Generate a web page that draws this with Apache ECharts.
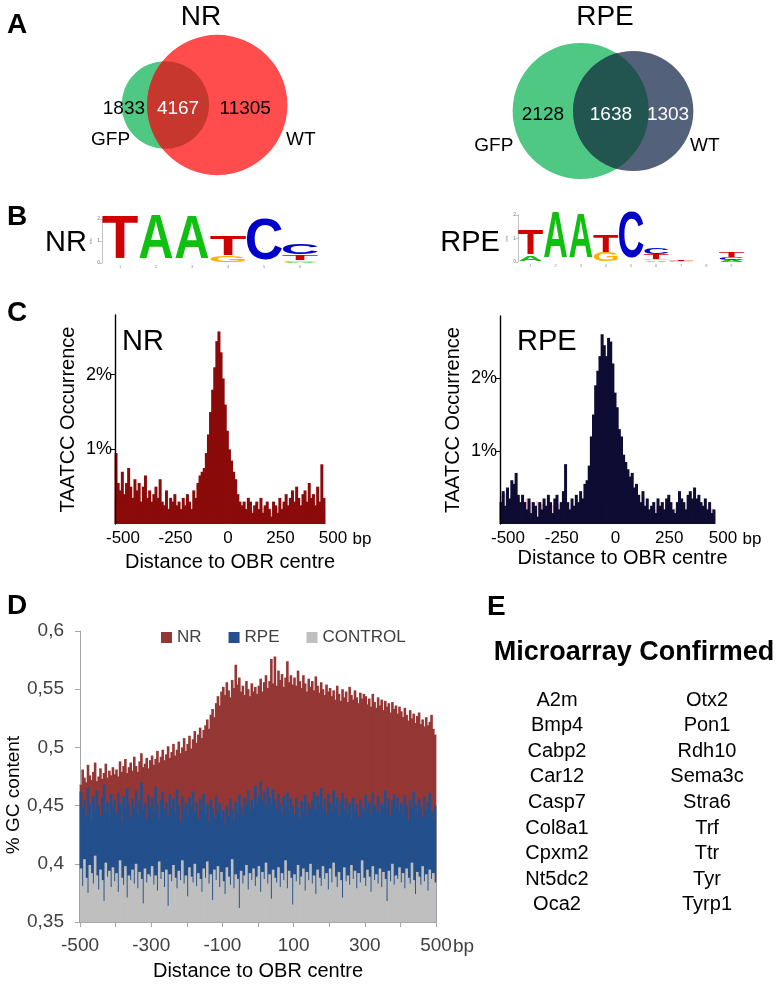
<!DOCTYPE html>
<html><head><meta charset="utf-8">
<script src="https://cdn.jsdelivr.net/npm/echarts@6/dist/echarts.min.js"></script>
<style>html,body{margin:0;padding:0;background:#fff}#c{width:779px;height:984px}</style>
</head><body><div id="c"></div>
<script>
const FONT = '"Liberation Sans", Arial, Helvetica, sans-serif';

// ---------- A: Venn counts [GFP only, both, WT only]
const vennNR = [1833, 4167, 11305];
const vennRPE = [2128, 1638, 1303];
const vennSets = ['GFP', 'WT'];

// ---------- B: sequence logos, per position, stack bottom -> top [letter, bits]
const logoNR = [
  [['T', 1.95]],
  [['A', 1.98]],
  [['A', 1.96]],
  [['G', 0.28], ['T', 0.86]],
  [['C', 1.85]],
  [['A', 0.05], ['G', 0.08], ['T', 0.22], ['C', 0.48]]
];
const logoRPE = [
  [['A', 0.22], ['T', 1.05]],
  [['A', 1.94]],
  [['A', 1.90]],
  [['G', 0.36], ['T', 0.70]],
  [['C', 1.95]],
  [['A', 0.06], ['G', 0.05], ['T', 0.20], ['C', 0.28]],
  [['G', 0.03], ['T', 0.05]],
  [['C', 0.02]],
  [['A', 0.08], ['C', 0.12], ['T', 0.22]]
];
const logoPositionsNR = ['1', '2', '3', '4', '5', '6'];
const logoPositionsRPE = ['1', '2', '3', '4', '5', '6', '7', '8', '9'];

// ---------- C: TAATCC occurrence (%) in 10 bp bins from -500 to 500
const cBinStart = -500, cBinWidth = 10;
const cTicks = [-500, -250, 0, 250, 500];
const cNR = [
  .95,.55,.45,.70,.40,.55,.75,.50,.35,.60,
  .45,.55,.30,.50,.65,.35,.45,.30,.40,.50,
  .35,.60,.30,.25,.45,.20,.35,.30,.40,.25,
  .30,.20,.35,.25,.40,.30,.20,.45,.35,.55,
  .65,.70,.75,.95,1.20,1.50,1.80,2.10,2.45,2.58,
  2.30,1.95,1.60,1.25,1.00,.85,.70,.60,.40,.30,
  .25,.30,.20,.35,.30,.15,.25,.30,.20,.35,
  .15,.25,.30,.20,.10,.30,.25,.15,.35,.20,
  .30,.40,.25,.35,.45,.30,.50,.35,.25,.40,
  .45,.30,.55,.35,.40,.25,.50,.30,.80,.35
];
const cNRbackground = [
  .30,.22,.33,.25,.18,.28,.31,.20,.26,.29,
  .24,.30,.19,.27,.22,.25,.17,.28,.21,.24,
  .18,.23,.20,.26,.15,.22,.19,.24,.17,.21,
  .20,.16,.23,.18,.21,.15,.19,.22,.17,.20,
  .18,.21,.16,.22,.19,.17,.23,.18,.20,.16,
  .21,.18,.22,.17,.19,.23,.16,.20,.18,.21,
  .17,.22,.19,.15,.21,.18,.23,.16,.20,.19,
  .22,.17,.19,.21,.15,.20,.18,.23,.17,.21,
  .19,.22,.16,.20,.18,.24,.17,.21,.19,.22,
  .20,.18,.23,.17,.21,.19,.24,.18,.22,.20
];
const cRPE = [
  .30,.45,.25,.50,.35,.60,.55,.70,.40,.30,
  .40,.30,.20,.35,.15,.30,.25,.10,.30,.20,
  .35,.25,.40,.30,.15,.35,.40,.20,.30,.45,
  .82,.30,.20,.35,.25,.40,.30,.45,.35,.55,
  .60,.80,1.20,1.50,1.90,2.10,2.30,2.60,2.45,2.30,
  2.55,2.50,2.20,1.80,1.60,1.30,1.20,.95,.85,.75,
  .65,.70,.50,.55,.40,.30,.45,.25,.35,.20,
  .25,.30,.15,.35,.25,.30,.20,.35,.40,.30,
  .20,.15,.30,.45,.35,.30,.20,.40,.45,.35,
  .50,.35,.40,.30,.25,.35,.20,.30,.15,.20
];
const cRPEbackground = [
  .38,.30,.42,.27,.35,.40,.25,.33,.37,.29,
  .32,.26,.35,.22,.30,.28,.24,.31,.20,.27,
  .25,.21,.28,.18,.26,.23,.19,.27,.22,.24,
  .20,.25,.18,.23,.21,.17,.24,.19,.22,.20,
  .18,.23,.16,.21,.19,.24,.17,.20,.22,.18,
  .21,.17,.23,.19,.16,.22,.20,.18,.24,.17,
  .19,.22,.18,.15,.21,.17,.23,.19,.16,.20,
  .22,.18,.20,.23,.17,.21,.19,.24,.18,.20,
  .17,.21,.19,.16,.22,.18,.20,.23,.17,.19,
  .21,.18,.22,.20,.16,.19,.23,.18,.21,.17
];

// ---------- D: GC content in 5 bp bins from -500 to 500
const dBinStart = -500, dBinWidth = 5;
const dNR = [
  .468,.481,.474,.470,.485,.476,.472,.479,.487,.471,.475,.482,.473,.478,.486,.474,.480,.476,.483,.477,
  .481,.475,.488,.479,.484,.490,.478,.483,.487,.480,.492,.484,.479,.488,.495,.483,.486,.491,.482,.489,
  .493,.485,.490,.497,.487,.492,.498,.489,.494,.501,.491,.496,.503,.493,.498,.505,.495,.500,.508,.497,
  .503,.510,.499,.507,.514,.504,.511,.517,.508,.515,
  .519,.524,.516,.528,.533,.526,.538,.544,.536,.548,
  .552,.545,.556,.549,.543,.558,.551,.571,.554,.560,.548,.553,.545,.557,.550,.544,.555,.548,.552,.546,
  .553,.559,.548,.556,.562,.551,.557,.576,.555,.578,.553,.566,.558,.563,.552,.560,.574,.556,.562,.554,
  .560,.553,.566,.557,.551,.562,.555,.548,.559,.552,.557,.549,.561,.553,.547,.556,.550,.545,.554,.548,
  .551,.544,.549,.541,.553,.546,.540,.550,.543,.548,.539,.552,.545,.541,.549,.543,.538,.547,.542,.546,
  .544,.537,.542,.535,.546,.539,.534,.543,.536,.541,.532,.540,.535,.538,.530,.539,.533,.536,.529,.535,
  .531,.526,.534,.528,.523,.532,.525,.529,.521,.527,.530,.520,.524,.518,.526,.519,.522,.528,.516,.511
];
const dRPE = [
  .462,.448,.455,.441,.466,.452,.437,.458,.446,.463,
  .450,.441,.457,.468,.444,.453,.439,.460,.449,.455,
  .443,.461,.452,.436,.458,.447,.465,.451,.440,.456,
  .448,.463,.442,.454,.470,.446,.452,.438,.459,.449,
  .457,.444,.466,.451,.439,.455,.462,.447,.453,.441,
  .460,.448,.456,.443,.464,.450,.437,.458,.446,.452,
  .441,.457,.449,.462,.445,.453,.438,.456,.447,.460,
  .443,.451,.436,.455,.448,.440,.458,.444,.452,.439,
  .446,.433,.450,.441,.456,.447,.438,.453,.444,.459,
  .449,.442,.457,.451,.463,.446,.455,.448,.467,.452,
  .458,.471,.454,.462,.449,.466,.457,.451,.464,.455,
  .447,.460,.452,.443,.458,.449,.461,.445,.456,.450,
  .442,.457,.448,.439,.454,.446,.459,.441,.452,.447,
  .455,.462,.446,.458,.451,.465,.448,.456,.443,.460,
  .452,.445,.463,.449,.457,.441,.454,.461,.447,.456,
  .443,.452,.438,.457,.446,.451,.440,.455,.448,.444,
  .459,.447,.453,.442,.461,.450,.446,.458,.444,.452,
  .449,.463,.447,.456,.441,.454,.460,.448,.457,.445,
  .452,.443,.459,.450,.438,.455,.447,.462,.451,.444,
  .456,.449,.440,.458,.446,.453,.461,.445,.437,.450
];
const dCONTROL = [
  .396,.381,.404,.388,.375,.399,.392,.383,.407,.390,
  .378,.395,.386,.368,.401,.389,.394,.380,.397,.385,
  .392,.376,.403,.388,.382,.398,.371,.390,.386,.395,
  .383,.400,.379,.393,.387,.366,.396,.384,.391,.389,
  .398,.382,.390,.377,.402,.387,.393,.380,.395,.364,
  .391,.385,.399,.388,.379,.394,.386,.403,.383,.390,
  .372,.397,.389,.384,.400,.381,.392,.387,.376,.396,
  .388,.402,.383,.391,.369,.395,.386,.398,.380,.393,
  .385,.374,.397,.389,.382,.404,.379,.391,.387,.362,
  .394,.383,.390,.399,.378,.392,.386,.396,.381,.389,
  .398,.376,.393,.387,.401,.383,.391,.370,.395,.388,
  .384,.397,.380,.392,.386,.403,.379,.394,.388,.365,
  .391,.385,.399,.382,.389,.396,.377,.393,.386,.400,
  .383,.390,.374,.395,.388,.381,.398,.387,.392,.378,
  .396,.384,.401,.389,.380,.393,.386,.371,.397,.385,
  .390,.382,.399,.387,.394,.379,.392,.384,.403,.388,
  .381,.395,.389,.376,.398,.386,.391,.383,.396,.380,
  .393,.387,.368,.394,.385,.400,.382,.390,.387,.397,
  .384,.392,.379,.396,.388,.383,.401,.386,.374,.393,
  .389,.382,.398,.385,.391,.377,.395,.387,.392,.384
];
const dSeriesNames = ['NR', 'RPE', 'CONTROL'];

// ---------- E: genes
const genesLeft = ['A2m', 'Bmp4', 'Cabp2', 'Car12', 'Casp7', 'Col8a1', 'Cpxm2', 'Nt5dc2', 'Oca2'];
const genesRight = ['Otx2', 'Pon1', 'Rdh10', 'Sema3c', 'Stra6', 'Trf', 'Ttr', 'Tyr', 'Tyrp1'];

// =================================================================
const chart = echarts.init(document.getElementById('c'), null, { renderer: 'canvas' });

function lensArea(r1, r2, d) {
  if (d >= r1 + r2) return 0;
  if (d <= Math.abs(r1 - r2)) return Math.PI * Math.min(r1, r2) ** 2;
  const a1 = Math.acos((d * d + r1 * r1 - r2 * r2) / (2 * d * r1));
  const a2 = Math.acos((d * d + r2 * r2 - r1 * r1) / (2 * d * r2));
  return r1 * r1 * a1 + r2 * r2 * a2 - 0.5 * Math.sqrt((-d + r1 + r2) * (d + r1 - r2) * (d - r1 + r2) * (d + r1 + r2));
}
function vennLayout(counts, k) {
  const [a, ab, b] = counts;
  const r1 = k * Math.sqrt((a + ab) / Math.PI), r2 = k * Math.sqrt((b + ab) / Math.PI);
  const target = ab * k * k;
  let lo = Math.abs(r1 - r2) + 1e-6, hi = r1 + r2;
  for (let i = 0; i < 60; i++) { const m = (lo + hi) / 2; if (lensArea(r1, r2, m) > target) lo = m; else hi = m; }
  const d = (lo + hi) / 2;
  const x1 = -(d + r2 - r1) / 2;
  return { r1, r2, x1, x2: x1 + d };
}
function txt(text, x, y, size, fill, align, bold) {
  return { type: 'text', x: x, y: y, silent: true,
    style: { text: text, x: 0, y: 0, fill: fill || '#000', font: (bold ? 'bold ' : '') + size + 'px ' + FONT,
      align: align || 'center', verticalAlign: 'middle', textAlign: align || 'center', textVerticalAlign: 'middle' } };
}

function vennSeries(counts, gi, k, colors, labelColors, name) {
  return {
    type: 'custom', name: name, coordinateSystem: 'cartesian2d', xAxisIndex: gi, yAxisIndex: gi,
    clip: false, silent: true, animation: false, data: [[0, 0]],
    renderItem: function (params, api) {
      const L = vennLayout(counts, k);
      const unit = api.size([1, 0])[0];
      const c1 = api.coord([L.x1, 0]), c2 = api.coord([L.x2, 0]);
      const r1 = L.r1 * unit, r2 = L.r2 * unit, cy = c1[1];
      const d = c2[0] - c1[0];
      const a = (d * d + r1 * r1 - r2 * r2) / (2 * d);
      const h = Math.sqrt(Math.max(0, r1 * r1 - a * a));
      const xa = c1[0] + a;
      const pts = [], N = 72;
      const t2s = Math.atan2(-h, xa - c2[0]), t2e = Math.atan2(h, xa - c2[0]) - 2 * Math.PI;
      for (let i = 0; i <= N; i++) { const t = t2s + (t2e - t2s) * i / N; pts.push([c2[0] + r2 * Math.cos(t), cy + r2 * Math.sin(t)]); }
      const t1s = Math.atan2(h, xa - c1[0]), t1e = Math.atan2(-h, xa - c1[0]);
      for (let i = 0; i <= N; i++) { const t = t1s + (t1e - t1s) * i / N; pts.push([c1[0] + r1 * Math.cos(t), cy + r1 * Math.sin(t)]); }
      const fs = 19;
      const w = s => String(s).length * 0.556 * fs;
      const gfpL = c1[0] - r1, lensL = c2[0] - r2, lensR = c1[0] + r1, wtR = c2[0] + r2;
      const ly = cy + 4;
      let x0 = (gfpL + lensL) / 2, al0 = 'center';
      if (w(counts[0]) > lensL - gfpL - 4) { x0 = lensL - 2; al0 = 'right'; }
      const children = [
        { type: 'circle', shape: { cx: c1[0], cy: cy, r: r1 }, style: { fill: colors[0] } },
        { type: 'circle', shape: { cx: c2[0], cy: cy, r: r2 }, style: { fill: colors[1] } },
        { type: 'polygon', shape: { points: pts }, style: { fill: colors[2] } },
        txt(String(counts[0]), x0, ly, fs, labelColors[0], al0),
        txt(String(counts[1]), (lensL + lensR) / 2, ly, fs, labelColors[1], 'center'),
        txt(String(counts[2]), (lensR + wtR) / 2 - 3, ly, fs, labelColors[2], 'center'),
      ];
      const sy = 35;
      children.push(txt(vennSets[0], c1[0] - Math.sqrt(Math.max(0, r1 * r1 - sy * sy)) - 9, cy + sy, fs, '#000', 'right'));
      children.push(txt(vennSets[1], c2[0] + Math.sqrt(Math.max(0, r2 * r2 - sy * sy)) + 8, cy + sy, fs, '#000', 'left'));
      return { type: 'group', children: children };
    }
  };
}

const letterColor = { T: '#D10000', A: '#10C010', C: '#0000C8', G: '#FFB000' };
const letterInk = { T: 0.57, A: 0.70, C: 0.64, G: 0.68 };
function logoSeries(stacks, gi, name) {
  const items = [];
  stacks.forEach((stack, pos) => {
    let base = 0;
    stack.forEach(([letter, bits]) => { items.push({ pos, base, bits, letter }); base += bits; });
  });
  return {
    type: 'custom', name: name, coordinateSystem: 'cartesian2d', xAxisIndex: gi, yAxisIndex: gi,
    clip: false, silent: true, animation: false,
    data: items.map(it => [it.pos, it.base, it.bits]),
    renderItem: function (params, api) {
      const it = items[params.dataIndex];
      const band = api.size([1, 0])[0];
      const x = api.coord([it.pos, 0])[0];
      const yb = api.coord([it.pos, it.base])[1];
      const yt = api.coord([it.pos, it.base + it.bits])[1];
      const F = 40;
      const hpx = Math.max(0.4, yb - yt), wpx = band * 0.95;
      return { type: 'text', x: x, y: (yb + yt) / 2, scaleX: wpx / (letterInk[it.letter] * F), scaleY: hpx / (0.70 * F),
        style: { text: it.letter, x: 0, y: 0, fill: letterColor[it.letter], font: 'bold ' + F + 'px ' + FONT,
          align: 'center', verticalAlign: 'middle', textAlign: 'center', textVerticalAlign: 'middle' } };
    }
  };
}

function binned(values, start, width) { return values.map((v, i) => [start + width * (i + 0.5), v]); }

function histXAxis(gi, shiftPad, nameGap, namePad) {
  return { gridIndex: gi, type: 'value', min: -500, max: 500, interval: 250,
    axisLine: { show: false, onZero: false }, axisTick: { show: false }, splitLine: { show: false },
    axisLabel: { show: true, customValues: cTicks, fontSize: 17, color: '#000', margin: 6, padding: [0, 0, 0, shiftPad], showMinLabel: true, showMaxLabel: true },
    name: 'Distance to OBR centre', nameLocation: 'middle', nameGap: nameGap,
    nameTextStyle: { fontSize: 20, color: '#000', padding: [0, 0, 0, namePad] } };
}
function histYAxis(gi, max) {
  return { gridIndex: gi, type: 'value', min: 0, max: max, z: 10,
    axisLine: { show: true, onZero: false, lineStyle: { color: '#000', width: 1.4 } },
    axisTick: { show: true, customValues: [1, 2], length: 4, lineStyle: { color: '#000' } },
    axisLabel: { show: true, customValues: [1, 2], formatter: v => v + '%', fontSize: 18, color: '#000', margin: 3 },
    splitLine: { show: false },
    name: 'TAATCC Occurrence', nameLocation: 'middle', nameGap: 37, nameTextStyle: { fontSize: 20, color: '#000' } };
}

const gridBase = { containLabel: false, outerBoundsMode: 'none' };
const option = {
  animation: false,
  textStyle: { fontFamily: FONT },
  grid: [
    Object.assign({ left: 104.5, top: 35, width: 200, height: 140 }, gridBase),
    Object.assign({ left: 503, top: 41, width: 200, height: 140 }, gridBase),
    Object.assign({ left: 102, top: 219, width: 216, height: 44 }, gridBase),
    Object.assign({ left: 518, top: 215, width: 226, height: 47 }, gridBase),
    Object.assign({ left: 115, top: 315, width: 210, height: 209 }, gridBase),
    Object.assign({ left: 500, top: 316, width: 215, height: 208 }, gridBase),
    Object.assign({ left: 80, top: 631, width: 356, height: 291 }, gridBase)
  ],
  xAxis: [
    { gridIndex: 0, type: 'value', min: -100, max: 100, show: false },
    { gridIndex: 1, type: 'value', min: -100, max: 100, show: false },
    { gridIndex: 2, type: 'category', data: logoPositionsNR, axisLine: { show: false }, axisTick: { show: false }, axisLabel: { fontSize: 4, color: '#888', margin: 2 } },
    { gridIndex: 3, type: 'category', data: logoPositionsRPE, axisLine: { show: false }, axisTick: { show: false }, axisLabel: { fontSize: 4, color: '#888', margin: 2 } },
    histXAxis(4, 16, 28, 20),
    histXAxis(5, 16, 24, 30),
    { gridIndex: 6, type: 'value', min: -500, max: 500, interval: 100,
      axisLine: { show: true, onZero: false, lineStyle: { color: '#A6A6A6', width: 1 } },
      axisTick: { show: true, length: 5, lineStyle: { color: '#A6A6A6' } },
      splitLine: { show: false },
      axisLabel: { show: true, showMinLabel: true, showMaxLabel: true, fontSize: 19, color: '#404040', margin: 14,
        formatter: v => ((v + 500) % 200 === 0 ? String(v) : '') },
      name: 'Distance to OBR centre', nameLocation: 'middle', nameGap: 39, nameTextStyle: { fontSize: 20, color: '#000' } }
  ],
  yAxis: [
    { gridIndex: 0, type: 'value', min: -70, max: 70, show: false },
    { gridIndex: 1, type: 'value', min: -70, max: 70, show: false },
    { gridIndex: 2, type: 'value', min: 0, max: 2, interval: 1, axisLine: { show: true, onZero: false, lineStyle: { color: '#999', width: 0.6 } },
      axisTick: { show: true, length: 2, lineStyle: { color: '#999', width: 0.6 } }, axisLabel: { fontSize: 5, color: '#777', margin: 2 },
      splitLine: { show: false }, name: 'bits', nameLocation: 'middle', nameGap: 7, nameTextStyle: { fontSize: 4, color: '#888' } },
    { gridIndex: 3, type: 'value', min: 0, max: 2, interval: 1, axisLine: { show: true, onZero: false, lineStyle: { color: '#999', width: 0.6 } },
      axisTick: { show: true, length: 2, lineStyle: { color: '#999', width: 0.6 } }, axisLabel: { fontSize: 5, color: '#777', margin: 2 },
      splitLine: { show: false }, name: 'bits', nameLocation: 'middle', nameGap: 7, nameTextStyle: { fontSize: 4, color: '#888' } },
    histYAxis(4, 2.8),
    histYAxis(5, 2.85),
    { gridIndex: 6, type: 'value', min: 0.35, max: 0.6, interval: 0.05,
      axisLine: { show: true, onZero: false, lineStyle: { color: '#A6A6A6', width: 1 } },
      axisTick: { show: true, length: 5, lineStyle: { color: '#A6A6A6' } },
      splitLine: { show: false },
      axisLabel: { show: true, fontSize: 19, color: '#404040', margin: 16, showMinLabel: true, showMaxLabel: true,
        formatter: v => String(Number(v.toFixed(2))).replace('.', ',') },
      name: '% GC content', nameLocation: 'middle', nameGap: 54, nameTextStyle: { fontSize: 19, color: '#000', padding: [0, 37, 0, 0] } }
  ],
  legend: {
    data: dSeriesNames, left: 156, top: 624, icon: 'rect', itemWidth: 11, itemHeight: 11, itemGap: 27,
    textStyle: { fontSize: 17, color: '#404040' }, selectedMode: false
  },
  series: [
    vennSeries(vennNR, 0, 1.0, ['#4EC883', '#FF4D4D', '#C8372D'], ['#000', '#fff', '#000'], 'Venn NR'),
    vennSeries(vennRPE, 1, 1.965, ['#4EC883', '#54617A', '#225450'], ['#000', '#fff', '#fff'], 'Venn RPE'),
    logoSeries(logoNR, 2, 'Logo NR'),
    logoSeries(logoRPE, 3, 'Logo RPE'),
    { type: 'bar', name: 'NR background', xAxisIndex: 4, yAxisIndex: 4, data: binned(cNRbackground, cBinStart, cBinWidth),
      barWidth: 3, barGap: '-100%', itemStyle: { color: '#F5C4C4' }, silent: true },
    { type: 'bar', name: 'NR TAATCC', xAxisIndex: 4, yAxisIndex: 4, data: binned(cNR, cBinStart, cBinWidth),
      barWidth: 3, barGap: '-100%', itemStyle: { color: '#8B0B0B' }, silent: true },
    { type: 'bar', name: 'RPE background', xAxisIndex: 5, yAxisIndex: 5, data: binned(cRPEbackground, cBinStart, cBinWidth),
      barWidth: 3, barGap: '-100%', itemStyle: { color: '#F8C8CC' }, silent: true },
    { type: 'bar', name: 'RPE TAATCC', xAxisIndex: 5, yAxisIndex: 5, data: binned(cRPE, cBinStart, cBinWidth),
      barWidth: 3, barGap: '-100%', itemStyle: { color: '#0E0C33' }, silent: true },
    { type: 'bar', name: 'NR', xAxisIndex: 6, yAxisIndex: 6, data: binned(dNR, dBinStart, dBinWidth),
      barWidth: 2.6, barGap: '-100%', itemStyle: { color: '#953735' }, silent: true },
    { type: 'bar', name: 'RPE', xAxisIndex: 6, yAxisIndex: 6, data: binned(dRPE, dBinStart, dBinWidth),
      barWidth: 2.6, barGap: '-100%', itemStyle: { color: '#23508C' }, silent: true },
    { type: 'bar', name: 'CONTROL', xAxisIndex: 6, yAxisIndex: 6, data: binned(dCONTROL, dBinStart, dBinWidth),
      barWidth: 2.6, barGap: '-100%', itemStyle: { color: '#BFBFBF' }, silent: true }
  ],
  graphic: (function () {
    const g = [];
    g.push(txt('A', 7, 25, 28, '#000', 'left', true));
    g.push(txt('B', 7, 217, 28, '#000', 'left', true));
    g.push(txt('C', 7, 313, 28, '#000', 'left', true));
    g.push(txt('D', 7, 606, 28, '#000', 'left', true));
    g.push(txt('E', 487, 607, 28, '#000', 'left', true));
    g.push(txt('NR', 201, 17, 28));
    g.push(txt('RPE', 605, 17, 28));
    g.push(txt('NR', 66, 243, 29));
    g.push(txt('RPE', 470, 243, 29));
    g.push(txt('NR', 122, 342, 29, '#000', 'left'));
    g.push(txt('RPE', 517, 342, 29, '#000', 'left'));
    g.push(txt('bp', 362, 539, 17));
    g.push(txt('bp', 752, 539, 17));
    g.push(txt('bp', 453, 947, 19, '#404040', 'left'));
    g.push(txt('Microarray Confirmed', 634, 653, 27, '#000', 'center', true));
    genesLeft.forEach((s, i) => g.push(txt(s, 557, 700 + 25.6 * i, 20)));
    genesRight.forEach((s, i) => g.push(txt(s, 707, 700 + 25.6 * i, 20)));
    return g;
  })()
};
chart.setOption(option);
</script>
</body></html>
